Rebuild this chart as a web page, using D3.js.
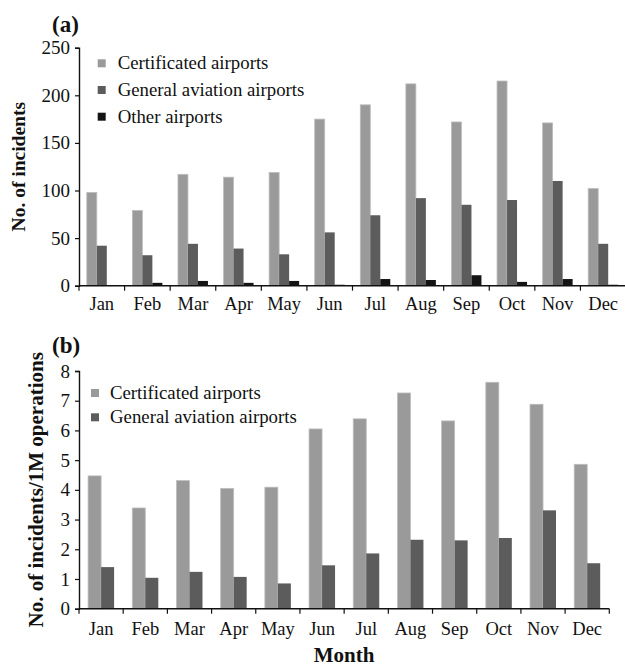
<!DOCTYPE html>
<html>
<head>
<meta charset="utf-8">
<script src="https://cdn.jsdelivr.net/npm/d3@7"></script>
<style>
  body { margin: 0; background: #fff; }
  svg text { font-family: "Liberation Serif", "Times New Roman", serif; fill: #111; }
</style>
</head>
<body>
<div class="chart"></div>
<script>
const months = ["Jan", "Feb", "Mar", "Apr", "May", "Jun", "Jul", "Aug", "Sep", "Oct", "Nov", "Dec"]

// panel (a): number of incidents
const certA  = [98, 79, 117, 114, 119, 175, 190, 212, 172, 215, 171, 102]
const gaA    = [42, 32, 44, 39, 33, 56, 74, 92, 85, 90, 110, 44]
const otherA = [0, 3, 5, 3, 5, 1, 7, 6, 11, 4, 7, 1]
const ticksA = [0, 50, 100, 150, 200, 250]

// panel (b): incidents per 1M operations
const certB = [4.47, 3.39, 4.31, 4.05, 4.09, 6.05, 6.39, 7.26, 6.32, 7.62, 6.88, 4.86]
const gaB   = [1.40, 1.04, 1.24, 1.07, 0.85, 1.46, 1.86, 2.32, 2.30, 2.38, 3.31, 1.53]
const ticksB = [0, 1, 2, 3, 4, 5, 6, 7, 8]

const colors = { cert: "#9a9a9a", ga: "#5c5c5c", other: "#141414" }

const svg = d3.select(".chart").append("svg")
  .attr("width", 625)
  .attr("height", 666)

function drawPanel(cfg) {
  const g = svg.append("g")

  const x = d3.scaleBand().domain(months).range([cfg.left, cfg.right])
  const y = d3.scaleLinear().domain([0, cfg.ymax]).range([cfg.bottom, cfg.top])

  const keys = cfg.series.map(s => s.key)
  const inner = d3.scaleBand().domain(keys)
    .range([0, cfg.barW * keys.length])

  const rows = months.map((m, i) => {
    const r = { month: m }
    cfg.series.forEach(s => r[s.key] = s.values[i])
    return r
  })

  const groups = g.selectAll(".grp").data(rows).join("g")
    .attr("class", "grp")
    .attr("transform", d => `translate(${x(d.month) + (x.bandwidth() - cfg.barW * keys.length) / 2},0)`)

  groups.selectAll("rect")
    .data(d => cfg.series.map(s => ({ key: s.key, color: s.color, v: d[s.key] })))
    .join("rect")
    .attr("x", d => inner(d.key))
    .attr("y", d => y(d.v))
    .attr("width", inner.bandwidth())
    .attr("height", d => cfg.bottom - y(d.v))
    .attr("fill", d => d.color)
    .attr("stroke", d => d.key == "cert" ? "#bdbdbd" : "none")
    .attr("stroke-width", 0.8)

  // y axis
  const yAxis = g.append("g")
    .attr("transform", `translate(${cfg.left},0)`)
    .call(d3.axisLeft(y).tickValues(cfg.ticks).tickSize(4).tickPadding(5))
  yAxis.select(".domain").attr("stroke", "#111").attr("stroke-width", 1.4)
  yAxis.selectAll(".tick line").attr("stroke", "#111").attr("stroke-width", 1.2)
  yAxis.selectAll("text").style("font-size", "19px").attr("fill", "#111")

  // x axis, ticks at band edges
  const xAxis = g.append("g").attr("transform", `translate(0,${cfg.bottom})`)
  xAxis.append("line")
    .attr("x1", cfg.left).attr("x2", cfg.right)
    .attr("stroke", "#111").attr("stroke-width", 1.6)
  xAxis.selectAll(".xt").data(months.concat(["end"])).join("line")
    .attr("class", "xt")
    .attr("x1", (d, i) => cfg.left + i * x.step())
    .attr("x2", (d, i) => cfg.left + i * x.step())
    .attr("y1", 0).attr("y2", 5)
    .attr("stroke", "#111").attr("stroke-width", 1.2)
  xAxis.selectAll(".xl").data(months).join("text")
    .attr("class", "xl")
    .attr("x", d => x(d) + x.bandwidth() / 2)
    .attr("y", cfg.labelY - cfg.bottom)
    .attr("text-anchor", "middle")
    .style("font-size", "18.5px")
    .text(d => d)

  // y title
  g.append("text")
    .attr("transform", `translate(${cfg.titleX},${(cfg.top + cfg.bottom) / 2}) rotate(-90)`)
    .attr("text-anchor", "middle")
    .style("font-size", cfg.titleSize + "px")
    .style("font-weight", "bold")
    .text(cfg.ytitle)

  // panel letter
  g.append("text")
    .attr("x", 52).attr("y", cfg.letterY)
    .style("font-size", "23px")
    .style("font-weight", "bold")
    .text(cfg.letter)

  // legend
  const leg = g.append("g").attr("transform", `translate(${cfg.legX},${cfg.legY})`)
  leg.selectAll("rect").data(cfg.series).join("rect")
    .attr("x", 0)
    .attr("y", (d, i) => i * cfg.legStep - 4)
    .attr("width", 8).attr("height", 8)
    .attr("fill", d => d.color)
  leg.selectAll("text").data(cfg.series).join("text")
    .attr("x", cfg.legTextDx)
    .attr("y", (d, i) => i * cfg.legStep + 6)
    .style("font-size", "18.8px")
    .text(d => d.label)
}

drawPanel({
  left: 79, right: 626, top: 47.7, bottom: 285.7, ymax: 250,
  ticks: ticksA, barW: 10, labelY: 310,
  titleX: 25, titleSize: 19.5, ytitle: "No. of incidents",
  letter: "(a)", letterY: 32,
  legX: 97.7, legY: 63.3, legStep: 26.7, legTextDx: 20,
  series: [
    { key: "cert", label: "Certificated airports", values: certA, color: colors.cert },
    { key: "ga", label: "General aviation airports", values: gaA, color: colors.ga },
    { key: "other", label: "Other airports", values: otherA, color: colors.other }
  ]
})

drawPanel({
  left: 79, right: 609.3, top: 371, bottom: 608.7, ymax: 8,
  ticks: ticksB, barW: 13, labelY: 635,
  titleX: 43, titleSize: 21, ytitle: "No. of incidents/1M operations",
  letter: "(b)", letterY: 353,
  legX: 91, legY: 393, legStep: 24.3, legTextDx: 19,
  series: [
    { key: "cert", label: "Certificated airports", values: certB, color: colors.cert },
    { key: "ga", label: "General aviation airports", values: gaB, color: colors.ga }
  ]
})

svg.append("text")
  .attr("x", 344).attr("y", 662)
  .attr("text-anchor", "middle")
  .style("font-size", "21px")
  .style("font-weight", "bold")
  .text("Month")
</script>
</body>
</html>
